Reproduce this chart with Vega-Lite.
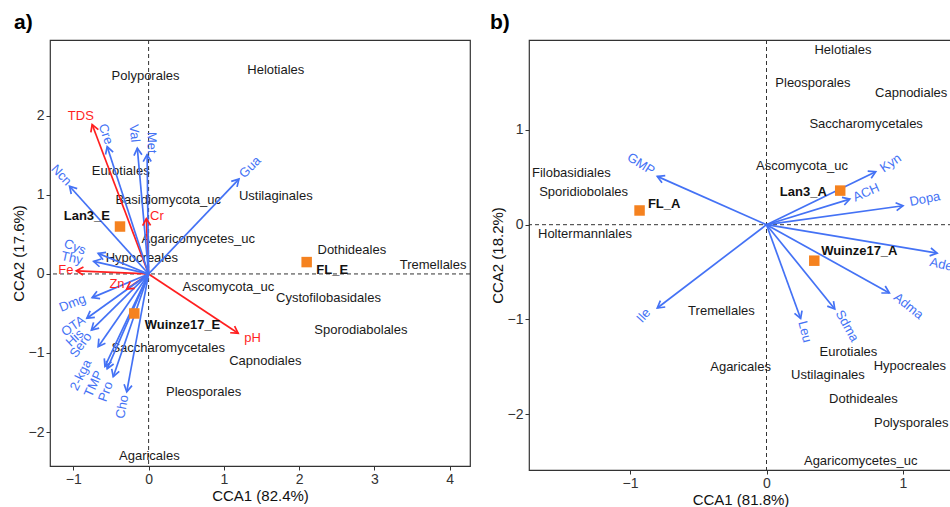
{
  "$schema": "https://vega.github.io/schema/vega-lite/v6.json",
  "padding": {"left": 10, "top": 10, "right": 0, "bottom": 0},
  "spacing": 17,
  "config": {
    "font": "Liberation Sans",
    "view": {"stroke": "#333333", "strokeWidth": 1.2},
    "axis": {"domain": false, "grid": false, "format": "d", "tickColor": "#333333", "tickSize": 4, "labelFontSize": 14, "labelColor": "#333333", "labelPadding": 2, "titleFontSize": 15, "titleFontWeight": "normal", "titleColor": "#111111", "titlePadding": 2, "labelFont": "Liberation Sans", "titleFont": "Liberation Sans"},
    "text": {"font": "Liberation Sans"}
  },
  "datasets": {
    "a_vectors": [
      {"name": "TDS", "type": "Environment", "cca1": -0.75, "cca2": 1.89, "lab1": -0.90, "lab2": 2.0},
      {"name": "Cr", "type": "Environment", "cca1": -0.03, "cca2": 0.70, "lab1": 0.11, "lab2": 0.73},
      {"name": "Fe", "type": "Environment", "cca1": -0.96, "cca2": 0.04, "lab1": -1.10, "lab2": 0.05},
      {"name": "Zn", "type": "Environment", "cca1": -0.29, "cca2": -0.19, "lab1": -0.42, "lab2": -0.13},
      {"name": "pH", "type": "Environment", "cca1": 1.19, "cca2": -0.75, "lab1": 1.38, "lab2": -0.81},
      {"name": "Cre", "type": "Metabolite", "cca1": -0.55, "cca2": 1.61, "lab1": -0.57, "lab2": 1.77},
      {"name": "Val", "type": "Metabolite", "cca1": -0.15, "cca2": 1.59, "lab1": -0.19, "lab2": 1.78},
      {"name": "Met", "type": "Metabolite", "cca1": -0.02, "cca2": 1.51, "lab1": 0.04, "lab2": 1.66},
      {"name": "Ncn", "type": "Metabolite", "cca1": -1.05, "cca2": 1.11, "lab1": -1.16, "lab2": 1.25},
      {"name": "Gua", "type": "Metabolite", "cca1": 1.20, "cca2": 1.20, "lab1": 1.35, "lab2": 1.35},
      {"name": "Cys", "type": "Metabolite", "cca1": -0.67, "cca2": 0.26, "lab1": -0.98, "lab2": 0.34},
      {"name": "Thy", "type": "Metabolite", "cca1": -0.73, "cca2": 0.16, "lab1": -1.02, "lab2": 0.20},
      {"name": "Dmg", "type": "Metabolite", "cca1": -0.75, "cca2": -0.30, "lab1": -1.01, "lab2": -0.37},
      {"name": "OTA", "type": "Metabolite", "cca1": -0.82, "cca2": -0.56, "lab1": -1.0, "lab2": -0.66},
      {"name": "His", "type": "Metabolite", "cca1": -0.76, "cca2": -0.71, "lab1": -0.98, "lab2": -0.81},
      {"name": "Sero", "type": "Metabolite", "cca1": -0.67, "cca2": -0.92, "lab1": -0.90, "lab2": -0.90},
      {"name": "2-kga", "type": "Metabolite", "cca1": -0.58, "cca2": -1.17, "lab1": -0.90, "lab2": -1.28},
      {"name": "TMP", "type": "Metabolite", "cca1": -0.55, "cca2": -1.20, "lab1": -0.73, "lab2": -1.39},
      {"name": "Pro", "type": "Metabolite", "cca1": -0.47, "cca2": -1.30, "lab1": -0.57, "lab2": -1.49},
      {"name": "Cho", "type": "Metabolite", "cca1": -0.29, "cca2": -1.49, "lab1": -0.35, "lab2": -1.68}
    ],
    "a_taxa": [
      {"name": "Polyporales", "cca1": -0.04, "cca2": 2.50},
      {"name": "Helotiales", "cca1": 1.69, "cca2": 2.58},
      {"name": "Eurotiales", "cca1": -0.37, "cca2": 1.30},
      {"name": "Basidiomycota_uc", "cca1": 0.26, "cca2": 0.93},
      {"name": "Ustilaginales", "cca1": 1.69, "cca2": 0.99},
      {"name": "Agaricomycetes_uc", "cca1": 0.66, "cca2": 0.44},
      {"name": "Hypocreales", "cca1": -0.09, "cca2": 0.20},
      {"name": "Dothideales", "cca1": 2.70, "cca2": 0.30},
      {"name": "Tremellales", "cca1": 3.78, "cca2": 0.11},
      {"name": "Ascomycota_uc", "cca1": 1.06, "cca2": -0.17},
      {"name": "Cystofilobasidales", "cca1": 2.39, "cca2": -0.30},
      {"name": "Sporodiabolales", "cca1": 2.82, "cca2": -0.71},
      {"name": "Saccharomycetales", "cca1": 0.26, "cca2": -0.94},
      {"name": "Capnodiales", "cca1": 1.55, "cca2": -1.10},
      {"name": "Pleosporales", "cca1": 0.73, "cca2": -1.50},
      {"name": "Agaricales", "cca1": 0.01, "cca2": -2.30}
    ],
    "a_sites": [
      {"name": "Lan3_E", "cca1": -0.38, "cca2": 0.60, "lab1": -0.82, "lab2": 0.73},
      {"name": "FL_E", "cca1": 2.10, "cca2": 0.15, "lab1": 2.44, "lab2": 0.05},
      {"name": "Wuinze17_E", "cca1": -0.19, "cca2": -0.50, "lab1": 0.45, "lab2": -0.65}
    ],
    "b_vectors": [
      {"name": "GMP", "type": "Metabolite", "cca1": -0.80, "cca2": 0.51, "lab1": -0.92, "lab2": 0.64},
      {"name": "Kyn", "type": "Metabolite", "cca1": 0.80, "cca2": 0.56, "lab1": 0.91, "lab2": 0.65},
      {"name": "ACH", "type": "Metabolite", "cca1": 0.61, "cca2": 0.27, "lab1": 0.73, "lab2": 0.34},
      {"name": "Dopa", "type": "Metabolite", "cca1": 1.00, "cca2": 0.20, "lab1": 1.16, "lab2": 0.27},
      {"name": "Ade", "type": "Metabolite", "cca1": 1.25, "cca2": -0.30, "lab1": 1.28, "lab2": -0.42},
      {"name": "Adma", "type": "Metabolite", "cca1": 0.90, "cca2": -0.72, "lab1": 1.04, "lab2": -0.86},
      {"name": "Sdma", "type": "Metabolite", "cca1": 0.50, "cca2": -0.89, "lab1": 0.59, "lab2": -1.07},
      {"name": "Leu", "type": "Metabolite", "cca1": 0.25, "cca2": -0.99, "lab1": 0.28, "lab2": -1.13},
      {"name": "Ile", "type": "Metabolite", "cca1": -0.80, "cca2": -0.88, "lab1": -0.90, "lab2": -0.96}
    ],
    "b_taxa": [
      {"name": "Helotiales", "cca1": 0.56, "cca2": 1.84},
      {"name": "Pleosporales", "cca1": 0.34, "cca2": 1.50},
      {"name": "Capnodiales", "cca1": 1.06, "cca2": 1.39},
      {"name": "Saccharomycetales", "cca1": 0.73, "cca2": 1.06},
      {"name": "Ascomycota_uc", "cca1": 0.26, "cca2": 0.62},
      {"name": "Filobasidiales", "cca1": -1.43, "cca2": 0.55},
      {"name": "Sporidiobolales", "cca1": -1.34, "cca2": 0.34},
      {"name": "Holtermannlales", "cca1": -1.33, "cca2": -0.10},
      {"name": "Tremellales", "cca1": -0.33, "cca2": -0.91},
      {"name": "Eurotiales", "cca1": 0.60, "cca2": -1.34},
      {"name": "Hypocreales", "cca1": 1.05, "cca2": -1.49},
      {"name": "Agaricales", "cca1": -0.19, "cca2": -1.50},
      {"name": "Ustilaginales", "cca1": 0.45, "cca2": -1.59},
      {"name": "Dothideales", "cca1": 0.71, "cca2": -1.84},
      {"name": "Polysporales", "cca1": 1.06, "cca2": -2.09},
      {"name": "Agaricomycetes_uc", "cca1": 0.69, "cca2": -2.49}
    ],
    "b_sites": [
      {"name": "FL_A", "cca1": -0.93, "cca2": 0.15, "lab1": -0.75, "lab2": 0.22},
      {"name": "Lan3_A", "cca1": 0.54, "cca2": 0.36, "lab1": 0.27, "lab2": 0.34},
      {"name": "Wuinze17_A", "cca1": 0.35, "cca2": -0.38, "lab1": 0.68, "lab2": -0.28}
    ],
    "ref": [{"ref": 0}]
  },
  "hconcat": [
    {
      "width": 420,
      "height": 426,
      "title": {"text": "a)", "anchor": "start", "frame": "bounds", "fontSize": 21, "fontWeight": "bold", "offset": 7, "dx": 3, "color": "#000000"},
      "layer": [
        {
          "data": {"name": "ref"},
          "mark": {"type": "rule", "strokeDash": [4, 3], "color": "#333333", "strokeWidth": 1},
          "encoding": {"y": {"field": "ref", "type": "quantitative", "scale": {"domain": [-2.43, 2.96], "nice": false, "zero": false}, "axis": {"values": [-2, -1, 0, 1, 2], "title": "CCA2 (17.6%)"}}}
        },
        {
          "data": {"name": "ref"},
          "mark": {"type": "rule", "strokeDash": [4, 3], "color": "#333333", "strokeWidth": 1},
          "encoding": {"x": {"field": "ref", "type": "quantitative", "scale": {"domain": [-1.31, 4.27], "nice": false, "zero": false}, "axis": {"values": [-1, 0, 1, 2, 3, 4], "title": "CCA1 (82.4%)"}}}
        },
        {
          "data": {"name": "a_taxa"},
          "mark": {"type": "text", "fontSize": 13, "color": "#1a1a1a", "clip": true},
          "encoding": {
            "x": {"field": "cca1", "type": "quantitative", "scale": {"domain": [-1.31, 4.27], "nice": false, "zero": false}, "axis": {"values": [-1, 0, 1, 2, 3, 4], "title": "CCA1 (82.4%)"}},
            "y": {"field": "cca2", "type": "quantitative", "scale": {"domain": [-2.43, 2.96], "nice": false, "zero": false}, "axis": {"values": [-2, -1, 0, 1, 2], "title": "CCA2 (17.6%)"}},
            "text": {"field": "name"}
          }
        },
        {
          "data": {"name": "a_vectors"},
          "mark": {"type": "rule", "strokeWidth": 1.7},
          "encoding": {
            "x": {"field": "cca1", "type": "quantitative"},
            "y": {"field": "cca2", "type": "quantitative"},
            "x2": {"datum": 0},
            "y2": {"datum": 0},
            "color": {"field": "type", "type": "nominal", "scale": {"domain": ["Environment", "Metabolite"], "range": ["#FF1F1F", "#4472F5"]}, "legend": null}
          }
        },
        {
          "data": {"name": "a_vectors"},
          "transform": [{"calculate": "atan2(datum.cca1 * 75.3, datum.cca2 * 79) * 180 / PI", "as": "head_angle"}],
          "mark": {"type": "point", "shape": "M-0.5,0.866L0,0L0.5,0.866", "filled": false, "size": 256, "strokeWidth": 1.7, "opacity": 1},
          "encoding": {
            "x": {"field": "cca1", "type": "quantitative"},
            "y": {"field": "cca2", "type": "quantitative"},
            "angle": {"field": "head_angle", "type": "quantitative", "scale": null},
            "color": {"field": "type", "type": "nominal", "scale": {"domain": ["Environment", "Metabolite"], "range": ["#FF1F1F", "#4472F5"]}, "legend": null}
          }
        },
        {
          "data": {"name": "a_vectors"},
          "transform": [{"calculate": "datum.type == 'Metabolite' ? -atan(datum.cca2 / datum.cca1) * 180 / PI : 0", "as": "text_angle"}],
          "mark": {"type": "text", "fontSize": 13, "clip": true},
          "encoding": {
            "x": {"field": "lab1", "type": "quantitative"},
            "y": {"field": "lab2", "type": "quantitative"},
            "text": {"field": "name"},
            "angle": {"field": "text_angle", "type": "quantitative", "scale": null},
            "color": {"field": "type", "type": "nominal", "scale": {"domain": ["Environment", "Metabolite"], "range": ["#FF1F1F", "#4472F5"]}, "legend": null}
          }
        },
        {
          "data": {"name": "a_sites"},
          "mark": {"type": "square", "size": 110, "color": "#F5821F", "opacity": 1},
          "encoding": {
            "x": {"field": "cca1", "type": "quantitative"},
            "y": {"field": "cca2", "type": "quantitative"}
          }
        },
        {
          "data": {"name": "a_sites"},
          "mark": {"type": "text", "fontSize": 13, "fontWeight": "bold", "color": "#111111", "clip": true},
          "encoding": {
            "x": {"field": "lab1", "type": "quantitative"},
            "y": {"field": "lab2", "type": "quantitative"},
            "text": {"field": "name"}
          }
        }
      ]
    },
    {
      "width": 423,
      "height": 430,
      "title": {"text": "b)", "anchor": "start", "frame": "bounds", "fontSize": 21, "fontWeight": "bold", "offset": 7, "dx": 0, "color": "#000000"},
      "layer": [
        {
          "data": {"name": "ref"},
          "mark": {"type": "rule", "strokeDash": [4, 3], "color": "#333333", "strokeWidth": 1},
          "encoding": {"y": {"field": "ref", "type": "quantitative", "scale": {"domain": [-2.59, 1.95], "nice": false, "zero": false}, "axis": {"values": [-2, -1, 0, 1], "title": "CCA2 (18.2%)"}}}
        },
        {
          "data": {"name": "ref"},
          "mark": {"type": "rule", "strokeDash": [4, 3], "color": "#333333", "strokeWidth": 1},
          "encoding": {"x": {"field": "ref", "type": "quantitative", "scale": {"domain": [-1.74, 1.359], "nice": false, "zero": false}, "axis": {"values": [-1, 0, 1], "title": "CCA1 (81.8%)"}}}
        },
        {
          "data": {"name": "b_taxa"},
          "mark": {"type": "text", "fontSize": 13, "color": "#1a1a1a", "clip": true},
          "encoding": {
            "x": {"field": "cca1", "type": "quantitative", "scale": {"domain": [-1.74, 1.359], "nice": false, "zero": false}, "axis": {"values": [-1, 0, 1], "title": "CCA1 (81.8%)"}},
            "y": {"field": "cca2", "type": "quantitative", "scale": {"domain": [-2.59, 1.95], "nice": false, "zero": false}, "axis": {"values": [-2, -1, 0, 1], "title": "CCA2 (18.2%)"}},
            "text": {"field": "name"}
          }
        },
        {
          "data": {"name": "b_vectors"},
          "mark": {"type": "rule", "strokeWidth": 1.7, "color": "#4472F5"},
          "encoding": {
            "x": {"field": "cca1", "type": "quantitative"},
            "y": {"field": "cca2", "type": "quantitative"},
            "x2": {"datum": 0},
            "y2": {"datum": 0}
          }
        },
        {
          "data": {"name": "b_vectors"},
          "transform": [{"calculate": "atan2(datum.cca1 * 136.5, datum.cca2 * 94.7) * 180 / PI", "as": "head_angle"}],
          "mark": {"type": "point", "shape": "M-0.5,0.866L0,0L0.5,0.866", "filled": false, "size": 256, "strokeWidth": 1.7, "color": "#4472F5", "opacity": 1, "clip": true},
          "encoding": {
            "x": {"field": "cca1", "type": "quantitative"},
            "y": {"field": "cca2", "type": "quantitative"},
            "angle": {"field": "head_angle", "type": "quantitative", "scale": null}
          }
        },
        {
          "data": {"name": "b_vectors"},
          "transform": [{"calculate": "-atan(datum.cca2 / datum.cca1) * 180 / PI", "as": "text_angle"}],
          "mark": {"type": "text", "fontSize": 13, "color": "#4472F5", "clip": true},
          "encoding": {
            "x": {"field": "lab1", "type": "quantitative"},
            "y": {"field": "lab2", "type": "quantitative"},
            "text": {"field": "name"},
            "angle": {"field": "text_angle", "type": "quantitative", "scale": null}
          }
        },
        {
          "data": {"name": "b_sites"},
          "mark": {"type": "square", "size": 110, "color": "#F5821F", "opacity": 1},
          "encoding": {
            "x": {"field": "cca1", "type": "quantitative"},
            "y": {"field": "cca2", "type": "quantitative"}
          }
        },
        {
          "data": {"name": "b_sites"},
          "mark": {"type": "text", "fontSize": 13, "fontWeight": "bold", "color": "#111111", "clip": true},
          "encoding": {
            "x": {"field": "lab1", "type": "quantitative"},
            "y": {"field": "lab2", "type": "quantitative"},
            "text": {"field": "name"}
          }
        }
      ]
    }
  ]
}
